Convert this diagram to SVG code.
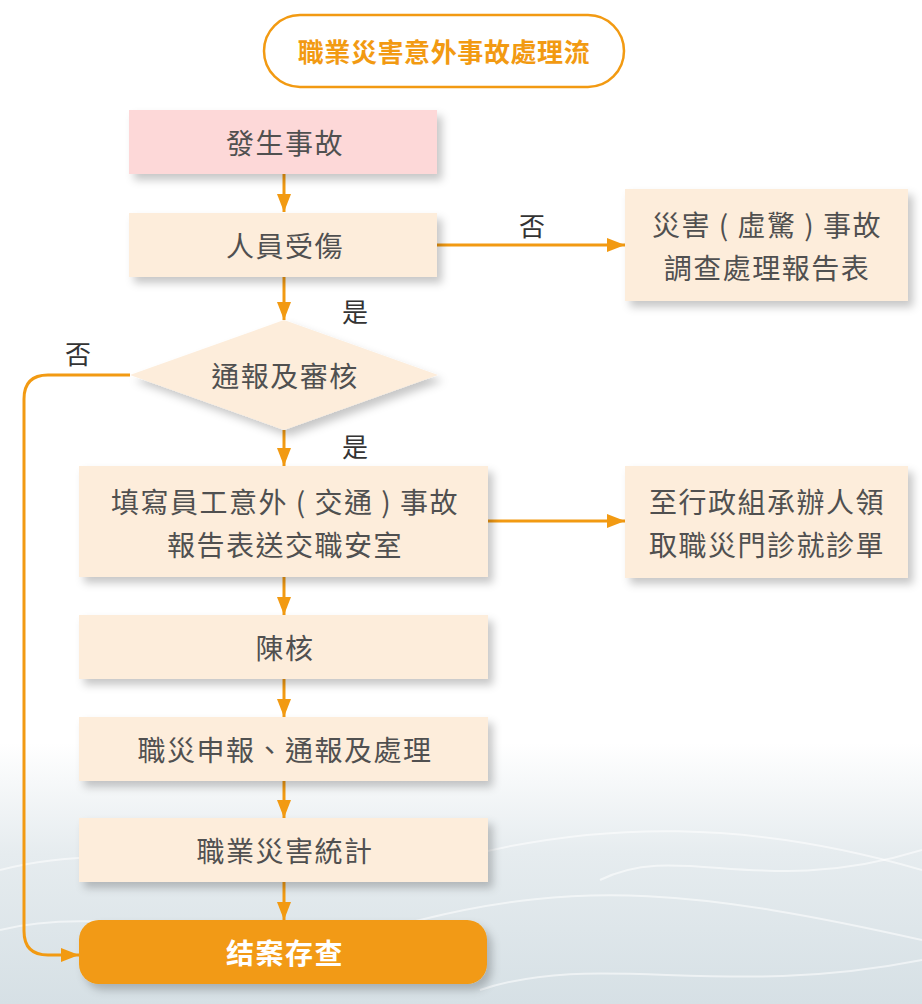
<svg xmlns="http://www.w3.org/2000/svg" width="922" height="1004" viewBox="0 0 922 1004">
<defs>
<linearGradient id="bg" x1="0" y1="0" x2="0" y2="1">
<stop offset="0" stop-color="#ffffff"/>
<stop offset="0.74" stop-color="#ffffff"/>
<stop offset="0.85" stop-color="#e6ecef"/>
<stop offset="1" stop-color="#d6e0e5"/>
</linearGradient>
<filter id="sh" x="-10%" y="-20%" width="125%" height="150%">
<feDropShadow dx="5" dy="6" stdDeviation="4" flood-color="#000" flood-opacity="0.22"/>
</filter>
<marker id="ah" viewBox="0 0 18 14" refX="18" refY="7" markerWidth="18" markerHeight="14" markerUnits="userSpaceOnUse" orient="auto">
<path d="M0,0 L18,7 L0,14 Z" fill="#f29a12"/>
</marker>
<style>
.box{fill:#fdeddb;filter:url(#sh)}
.t{font-family:"Noto Sans CJK TC","Noto Sans CJK SC",sans-serif;font-size:28px;letter-spacing:1.5px;fill:#505050;text-anchor:middle;dominant-baseline:central}
.lbl{font-family:"Noto Sans CJK TC","Noto Sans CJK SC",sans-serif;font-size:26px;fill:#333;text-anchor:middle;dominant-baseline:central}
.c{fill:none;stroke:#f29a12;stroke-width:3;marker-end:url(#ah)}
</style>
</defs>
<rect x="0" y="0" width="922" height="1004" fill="url(#bg)"/>
<g fill="none" stroke="#ffffff" stroke-opacity="0.55" stroke-width="2">
<path d="M0,870 C150,830 300,900 450,860 S750,820 922,870"/>
<path d="M0,930 C120,900 260,960 420,920 S700,890 922,940"/>
<path d="M480,990 C600,950 720,1000 922,960"/>
<path d="M600,880 C680,840 760,900 922,850"/>
</g>

<g id="title">
<rect x="264" y="15" width="360" height="72" rx="36" fill="#fff" stroke="#f29a12" stroke-width="2.5"/>
<text x="444" y="50" style="font-family:'Noto Sans CJK TC','Noto Sans CJK SC',sans-serif;font-size:26px;letter-spacing:0.6px;font-weight:bold;fill:#f29a12;text-anchor:middle;dominant-baseline:central">職業災害意外事故處理流</text>
</g>

<g id="connectors">
<path class="c" d="M284,174 V212"/>
<path class="c" d="M437,245 H625"/>
<path class="c" d="M284,277 V320"/>
<path class="c" d="M130,375 H48 Q24,375 24,399 V931 Q24,955 48,955 H79"/>
<path class="c" d="M284,430 V466"/>
<path class="c" d="M488,521 H625"/>
<path class="c" d="M284,577 V615"/>
<path class="c" d="M284,679 V717"/>
<path class="c" d="M284,781 V818"/>
<path class="c" d="M284,882 V920"/>
<text class="lbl" x="532" y="224">否</text>
<text class="lbl" x="355" y="310">是</text>
<text class="lbl" x="78" y="352">否</text>
<text class="lbl" x="355" y="445">是</text>
</g>

<g id="n1">
<rect x="129" y="110" width="308" height="64" fill="#fdd8d8" filter="url(#sh)"/>
<text class="t" x="285" y="142">發生事故</text>
</g>
<g id="n2">
<rect class="box" x="129" y="213" width="308" height="64"/>
<text class="t" x="285" y="245">人員受傷</text>
</g>
<g id="n3">
<rect class="box" x="625" y="189" width="283" height="112"/>
<text class="t" x="767" y="224">災害 ( 虛驚 ) 事故</text>
<text class="t" x="767" y="267">調查處理報告表</text>
</g>
<g id="n4">
<path d="M284,320 L438,375 L284,430 L130,375 Z" fill="#fdeddb" filter="url(#sh)"/>
<text class="t" x="285" y="375">通報及審核</text>
</g>
<g id="n5">
<rect class="box" x="79" y="466" width="409" height="111"/>
<text class="t" x="285" y="501">填寫員工意外 ( 交通 ) 事故</text>
<text class="t" x="285" y="544">報告表送交職安室</text>
</g>
<g id="n6">
<rect class="box" x="625" y="466" width="283" height="112"/>
<text class="t" x="767" y="501">至行政組承辦人領</text>
<text class="t" x="767" y="544">取職災門診就診單</text>
</g>
<g id="n7">
<rect class="box" x="79" y="615" width="409" height="64"/>
<text class="t" x="285" y="647">陳核</text>
</g>
<g id="n8">
<rect class="box" x="79" y="717" width="409" height="64"/>
<text class="t" x="285" y="749">職災申報、通報及處理</text>
</g>
<g id="n9">
<rect class="box" x="79" y="818" width="409" height="64"/>
<text class="t" x="285" y="850">職業災害統計</text>
</g>
<g id="n10">
<rect x="79" y="920" width="408" height="64" rx="20" fill="#f29a12" filter="url(#sh)"/>
<text class="t" x="285" y="952" style="fill:#fff;font-weight:bold">结案存查</text>
</g>
</svg>
